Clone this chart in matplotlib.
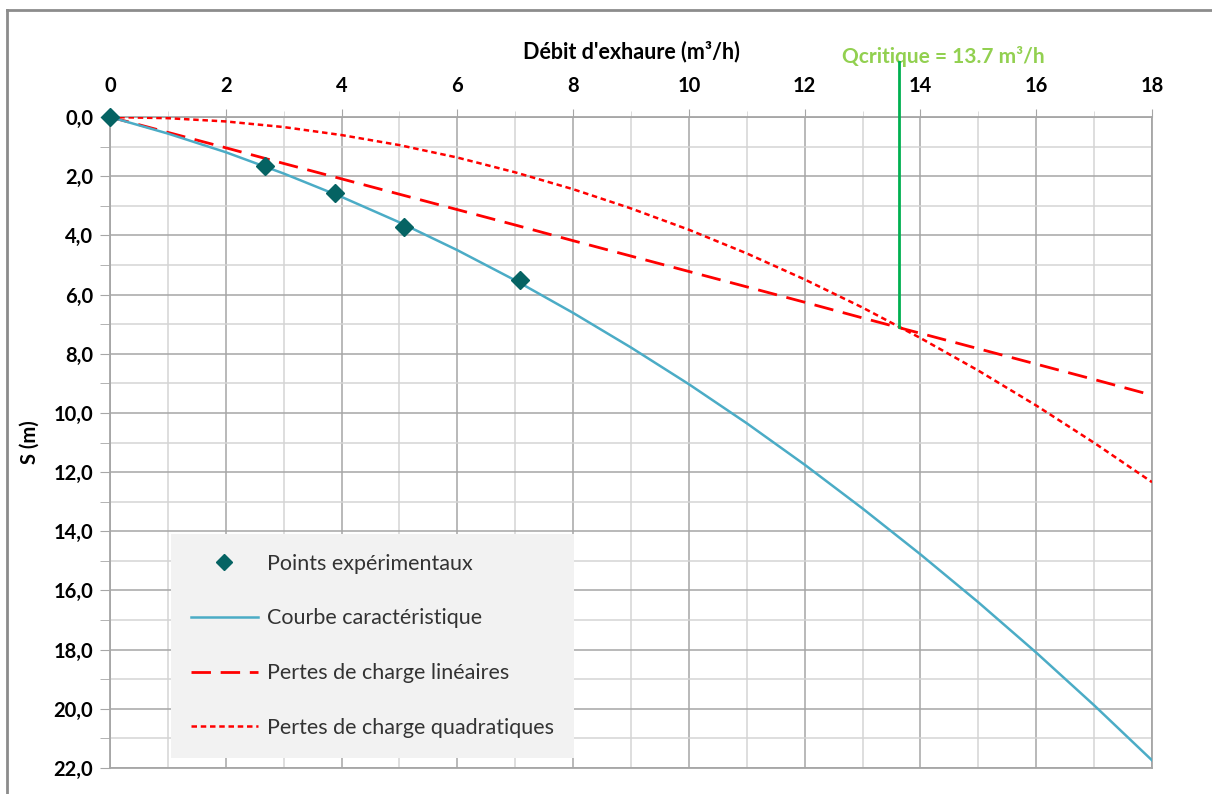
import matplotlib
matplotlib.use("Agg")
import matplotlib.pyplot as plt
from matplotlib.ticker import MultipleLocator, FuncFormatter
from matplotlib.lines import Line2D

# Data
q_exp = [0.0, 2.68, 3.89, 5.08, 7.09]
s_exp = [0.0, 1.65, 2.57, 3.72, 5.52]

q_curve = list(range(0, 19))
s_curve = [0, 0.56, 1.19, 1.91, 2.70, 3.56, 4.50, 5.52, 6.62, 7.79, 9.03,
           10.35, 11.75, 13.23, 14.78, 16.40, 18.10, 19.88, 21.74]
s_lin = [0, 0.52, 1.04, 1.57, 2.09, 2.61, 3.13, 3.65, 4.18, 4.70, 5.22,
         5.74, 6.26, 6.79, 7.31, 7.83, 8.35, 8.87, 9.40]
s_quad = [0, 0.04, 0.15, 0.34, 0.61, 0.95, 1.37, 1.87, 2.44, 3.09, 3.81,
          4.61, 5.49, 6.44, 7.47, 8.57, 9.75, 11.01, 12.34]

q_crit = 13.63
s_crit = 7.1

labels = ["Points expérimentaux", "Courbe caractéristique",
          "Pertes de charge linéaires", "Pertes de charge quadratiques"]

plt.rcParams['font.family'] = ['Lato', 'DejaVu Sans']

W, H = 1212, 794
fig = plt.figure(figsize=(W / 100, H / 100), dpi=100)
ax = fig.add_axes([110 / W, 1 - 768 / H, (1152 - 110) / W, (768 - 117) / H])

ax.set_xlim(0, 18)
ax.set_ylim(22, 0)
ax.xaxis.set_major_locator(MultipleLocator(2))
ax.xaxis.set_minor_locator(MultipleLocator(1))
ax.yaxis.set_major_locator(MultipleLocator(2))
ax.yaxis.set_minor_locator(MultipleLocator(1))
ax.xaxis.tick_top()
ax.yaxis.set_major_formatter(FuncFormatter(lambda v, p: f"{v:.1f}".replace(".", ",")))
ax.xaxis.set_major_formatter(FuncFormatter(lambda v, p: f"{int(v)}"))

ax.grid(which='major', color='#a6a6a6', lw=1.1, zorder=0)
ax.grid(which='minor', color='#d4d4d4', lw=1.1, zorder=0)
ax.set_axisbelow(True)
for sp in ax.spines.values():
    sp.set_color('#a6a6a6')
    sp.set_linewidth(1.3)

ax.tick_params(axis='x', which='major', length=6, color='#a6a6a6', pad=9,
               labelsize=14.5)
ax.tick_params(axis='x', which='minor', length=4, color='#d4d4d4')
ax.tick_params(axis='y', which='both', length=7, color='#a6a6a6', pad=5,
               labelsize=14.5)
for t in ax.get_xticklabels() + ax.get_yticklabels():
    t.set_fontweight('bold')

ax.plot(q_curve, s_lin, color='#ff0000', lw=2.0, dashes=(7, 3.5), zorder=3)
ax.plot(q_curve, s_quad, color='#ff0000', lw=1.8, dashes=(2.2, 1.5), zorder=3)
ax.plot(q_curve, s_curve, color='#4bacc6', lw=1.8, zorder=4)
ax.plot(q_exp, s_exp, linestyle='none', marker='D', markersize=9,
        color='#056363', zorder=5, clip_on=False)

ax.plot([q_crit, q_crit], [s_crit, -1.85], color='#00b050', lw=2, clip_on=False, zorder=6)
ax.text(14.4, -2.05, "Qcritique = 13.7 m³/h", color='#92d050', fontsize=15,
        fontweight='bold', ha='center', va='center', clip_on=False)

ax.set_title("Débit d'exhaure (m³/h)", fontsize=15.5, fontweight='bold', pad=42)
ax.set_ylabel("S (m)", fontsize=14.5, fontweight='bold', labelpad=10)

handles = [
    Line2D([], [], linestyle='none', marker='D', markersize=8, color='#056363'),
    Line2D([], [], color='#4bacc6', lw=1.8),
    Line2D([], [], color='#ff0000', lw=2.0, dashes=(7, 3.5)),
    Line2D([], [], color='#ff0000', lw=1.8, dashes=(2.2, 1.5)),
]
leg = ax.legend(handles, labels, loc='upper left',
                bbox_to_anchor=((171 - 110) / 1042, (768 - 534) / 651),
                fontsize=15.5, frameon=True, fancybox=False, facecolor='#f2f2f2',
                edgecolor='none', framealpha=1, handlelength=3.1, handletextpad=0.45,
                labelspacing=1.61, borderpad=0.92, borderaxespad=0)
for t in leg.get_texts():
    t.set_color('#333333')
leg.set_zorder(10)

# outer chart border
fig.add_artist(Line2D([7 / W, 7 / W], [0, 1 - 10 / H], transform=fig.transFigure,
                      color='#8c8c8c', lw=2))
fig.add_artist(Line2D([7 / W, 1], [1 - 10 / H, 1 - 10 / H], transform=fig.transFigure,
                      color='#8c8c8c', lw=2))

fig.savefig("out.png", dpi=100)
